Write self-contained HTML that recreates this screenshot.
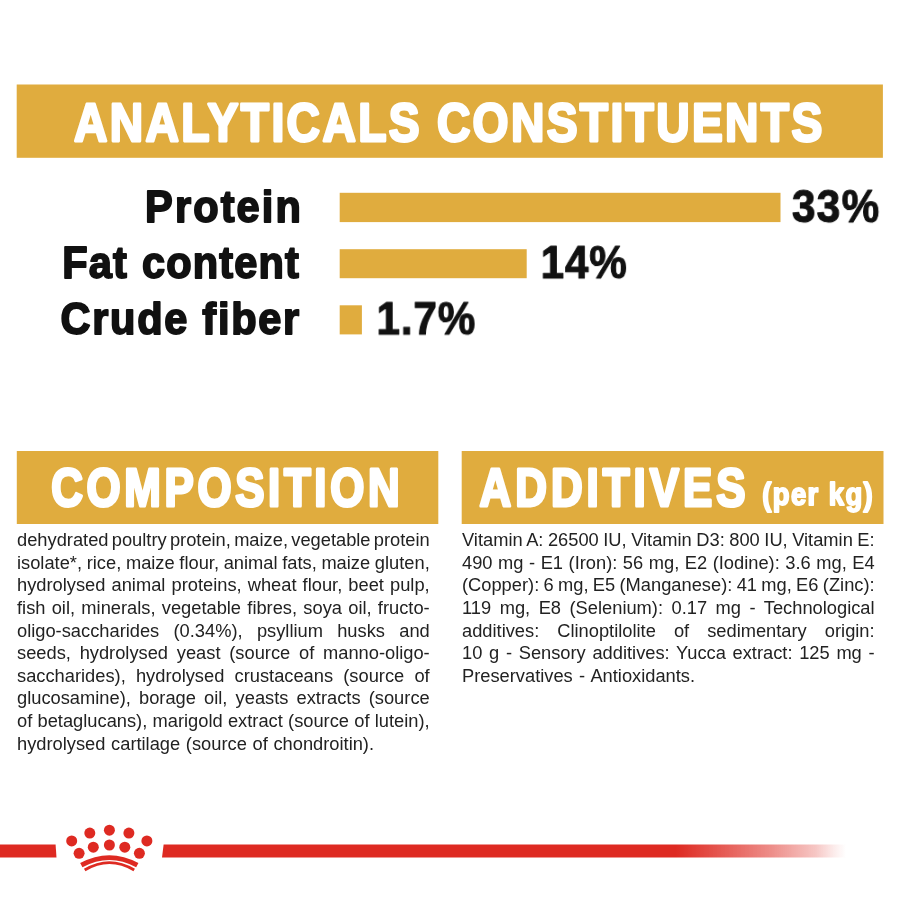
<!DOCTYPE html>
<html lang="en">
<head>
<meta charset="utf-8">
<title>Analytical constituents</title>
<style>
html,body{margin:0;padding:0;background:#fff;}
body{width:900px;height:900px;position:relative;overflow:hidden;font-family:"Liberation Sans",sans-serif;}
svg{position:absolute;left:0;top:0;will-change:transform;}
.hd{font-family:"Liberation Sans",sans-serif;font-weight:bold;stroke-linejoin:round;}
.hd text{vector-effect:non-scaling-stroke;}
.para{position:absolute;will-change:transform;color:#222;font-family:"Liberation Sans",sans-serif;font-size:18.3px;line-height:22.65px;}
.para div{white-space:nowrap;height:22.65px;}
</style>
</head>
<body>
<svg width="900" height="900" viewBox="0 0 900 900">
  <defs>
    <linearGradient id="fade" gradientUnits="userSpaceOnUse" x1="162" y1="0" x2="900" y2="0">
      <stop offset="0" stop-color="#de2a22"/>
      <stop offset="0.6965" stop-color="#de2a22"/>
      <stop offset="0.824" stop-color="#de2a22" stop-opacity="0.54"/>
      <stop offset="0.885" stop-color="#de2a22" stop-opacity="0.27"/>
      <stop offset="0.912" stop-color="#de2a22" stop-opacity="0.08"/>
      <stop offset="0.927" stop-color="#de2a22" stop-opacity="0"/>
      <stop offset="1" stop-color="#de2a22" stop-opacity="0"/>
    </linearGradient>
  </defs>
  <rect x="16.7" y="84.5" width="866.2" height="73.3" fill="#e0ac3e"/>
  <rect x="16.8" y="451" width="421.5" height="73" fill="#e0ac3e"/>
  <rect x="461.7" y="451" width="421.8" height="73" fill="#e0ac3e"/>
  <rect x="339.7" y="192.8" width="440.8" height="29.3" fill="#e0ac3e"/>
  <rect x="339.7" y="249.2" width="187" height="29" fill="#e0ac3e"/>
  <rect x="339.7" y="305.3" width="22.2" height="29.1" fill="#e0ac3e"/>

  <g class="hd" fill="#fff" stroke="#fff">
    <text transform="translate(73.92,141.00) scale(0.8600,1)" font-size="53.8" letter-spacing="2.747" word-spacing="0.000" stroke-width="2.6">ANALYTICALS</text>
    <text transform="translate(436.88,141.00) scale(0.8600,1)" font-size="53.8" letter-spacing="2.712" word-spacing="0.000" stroke-width="2.6">CONSTITUENTS</text>
    <text transform="translate(51.22,505.80) scale(0.8200,1)" font-size="53.5" letter-spacing="4.452" word-spacing="0.000" stroke-width="2.8">COMPOSITION</text>
    <text transform="translate(479.60,505.60) scale(0.8200,1)" font-size="53.5" letter-spacing="4.866" word-spacing="0.000" stroke-width="2.8">ADDITIVES</text>
    <text transform="translate(762.20,505.30) scale(0.9000,1)" font-size="30.5" letter-spacing="1.575" word-spacing="0.000" stroke-width="1.8">(per kg)</text>
  </g>
  <g class="hd" fill="#111" stroke="#111">
    <text transform="translate(145.11,221.70) scale(0.9200,1)" font-size="45.2" letter-spacing="2.263" word-spacing="0.000" stroke-width="1.8">Protein</text>
    <text transform="translate(62.17,277.70) scale(0.9200,1)" font-size="45.2" letter-spacing="1.211" word-spacing="1.630" stroke-width="1.8">Fat content</text>
    <text transform="translate(60.41,333.90) scale(0.9200,1)" font-size="45.2" letter-spacing="1.865" word-spacing="0.000" stroke-width="1.8">Crude fiber</text>
    <text transform="translate(791.92,222.10) scale(0.9000,1)" font-size="47" letter-spacing="1.487" word-spacing="0.000" stroke-width="1.0">33%</text>
    <text transform="translate(540.65,278.10) scale(0.9000,1)" font-size="47" letter-spacing="0.906" word-spacing="0.000" stroke-width="1.0">14%</text>
    <text transform="translate(376.48,334.30) scale(0.9000,1)" font-size="47" letter-spacing="0.906" word-spacing="0.000" stroke-width="1.0">1.7%</text>
  </g>

  <polygon points="0,844.5 55.6,844.5 56.5,857.4 0,857.4" fill="#de2a22"/>
  <polygon points="163.6,844.5 900,844.5 900,857.4 162,857.4" fill="url(#fade)"/>
  <g fill="#de2a22">
    <circle cx="71.7" cy="840.9" r="5.5"/>
    <circle cx="89.8" cy="833.1" r="5.5"/>
    <circle cx="109.4" cy="830.2" r="5.5"/>
    <circle cx="128.9" cy="833.1" r="5.5"/>
    <circle cx="146.9" cy="840.9" r="5.5"/>
    <circle cx="79.1" cy="853.3" r="5.5"/>
    <circle cx="93.3" cy="847.2" r="5.5"/>
    <circle cx="109.4" cy="845" r="5.5"/>
    <circle cx="124.8" cy="847.2" r="5.5"/>
    <circle cx="139.4" cy="853.3" r="5.5"/>
  </g>
  <path d="M81.3 865.2 Q109.4 850 137.3 865.2" fill="none" stroke="#de2a22" stroke-width="4.8"/>
  <path d="M84.7 870 Q109.4 855.2 134.2 870" fill="none" stroke="#de2a22" stroke-width="2.9"/>
</svg>

<div class="para" style="left:17.2px;top:528.5px;">
<div style="word-spacing:-1.81px">dehydrated poultry protein, maize, vegetable protein</div>
<div style="word-spacing:-0.41px">isolate*, rice, maize flour, animal fats, maize gluten,</div>
<div style="word-spacing:1.03px">hydrolysed animal proteins, wheat flour, beet pulp,</div>
<div style="word-spacing:1.18px">fish oil, minerals, vegetable fibres, soya oil, fructo-</div>
<div style="word-spacing:9.19px">oligo-saccharides (0.34%), psyllium husks and</div>
<div style="word-spacing:3.69px">seeds, hydrolysed yeast (source of manno-oligo-</div>
<div style="word-spacing:5.12px">saccharides), hydrolysed crustaceans (source of</div>
<div style="word-spacing:3.08px">glucosamine), borage oil, yeasts extracts (source</div>
<div style="word-spacing:0.19px">of betaglucans), marigold extract (source of lutein),</div>
<div style="word-spacing:0.60px">hydrolysed cartilage (source of chondroitin).</div>
</div>

<div class="para" style="left:461.9px;top:528.5px;">
<div style="word-spacing:-0.56px">Vitamin A: 26500 IU, Vitamin D3: 800 IU, Vitamin E:</div>
<div style="word-spacing:0.47px">490 mg - E1 (Iron): 56 mg, E2 (Iodine): 3.6 mg, E4</div>
<div style="word-spacing:-0.75px">(Copper): 6 mg, E5 (Manganese): 41 mg, E6 (Zinc):</div>
<div style="word-spacing:3.44px">119 mg, E8 (Selenium): 0.17 mg - Technological</div>
<div style="word-spacing:12.97px">additives: Clinoptilolite of sedimentary origin:</div>
<div style="word-spacing:1.62px">10 g - Sensory additives: Yucca extract: 125 mg -</div>
<div style="word-spacing:1.20px">Preservatives - Antioxidants.</div>
</div>
</body>
</html>
